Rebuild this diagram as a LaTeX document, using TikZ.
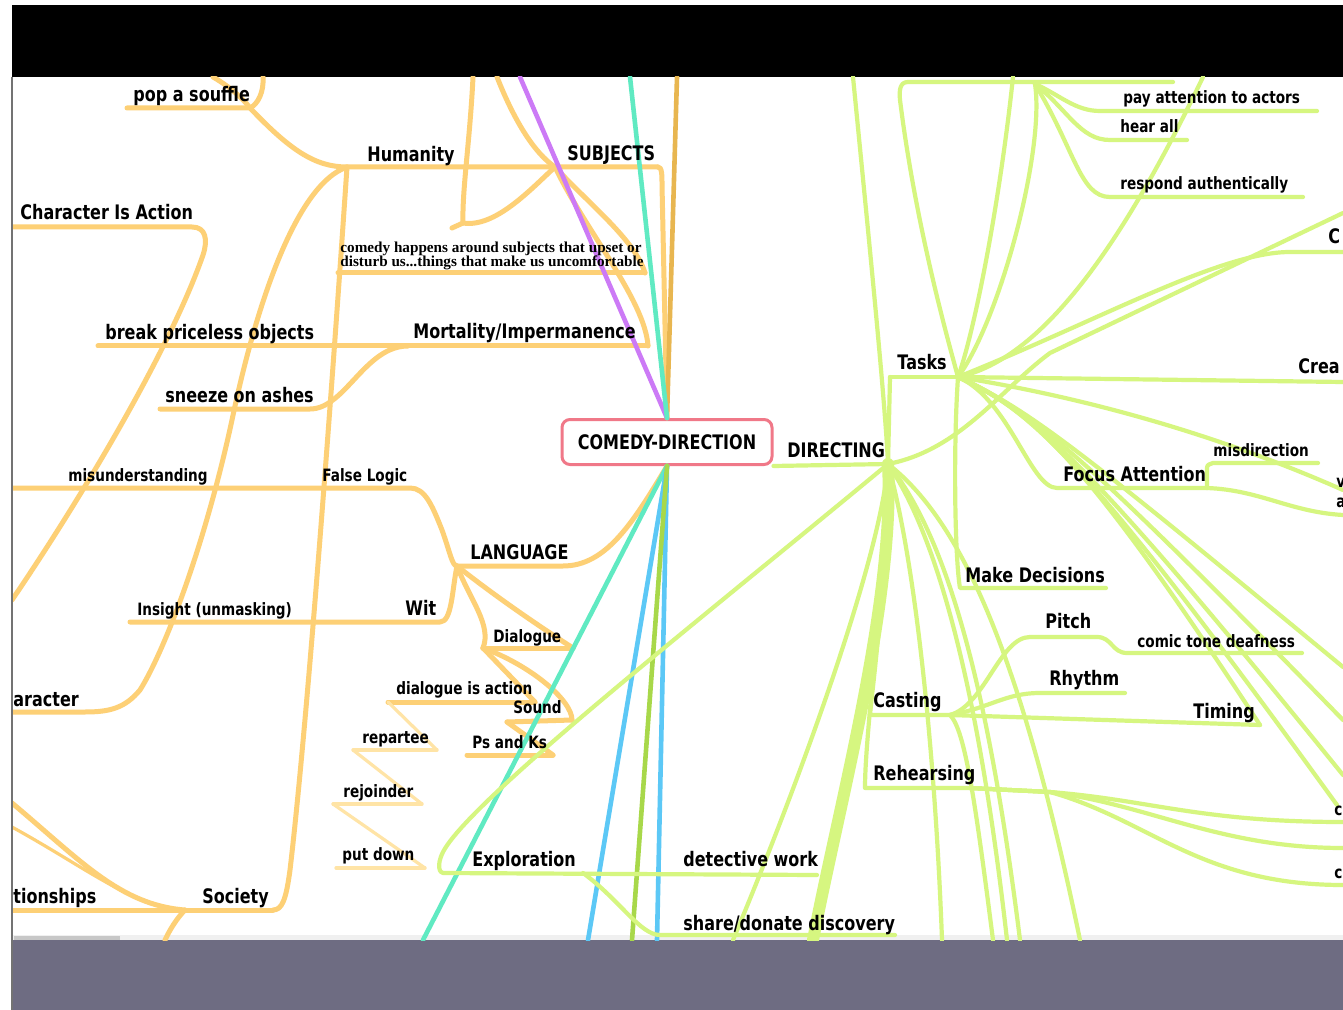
\documentclass[tikz,border=0pt]{standalone}
\usepackage{fontspec}
\setmainfont{DejaVu Sans}[FakeStretch=0.8]
\newfontfamily\noteserif{Liberation Serif}

\definecolor{orangeln}{RGB}{253,208,118}
\definecolor{orangepale}{RGB}{255,228,166}
\definecolor{orangedark}{RGB}{232,182,80}
\definecolor{limeln}{RGB}{214,246,128}
\definecolor{greendark}{RGB}{168,216,74}
\definecolor{purpleln}{RGB}{204,122,246}
\definecolor{tealln}{RGB}{96,234,194}
\definecolor{blueln}{RGB}{92,200,246}
\definecolor{pinkbox}{RGB}{240,120,136}
\definecolor{slideband}{RGB}{110,108,130}

\newcommand\bigfnt{\fontsize{10}{12}\selectfont\bfseries}
\newcommand\smlfnt{\fontsize{8.5}{10}\selectfont\bfseries}

\tikzset{
  lbl/.style={font=\bigfnt, inner sep=0pt, anchor=base west},
  sml/.style={font=\smlfnt, inner sep=0pt, anchor=base west},
  oline/.style={draw=orangeln, line width=2.5pt, line cap=round, line join=round},
  opale/.style={draw=orangepale, line width=1.6pt, line cap=round, line join=round},
  gline/.style={draw=limeln, line width=2.1pt, line cap=round, line join=round},
  spoke/.style={line width=2.3pt, line cap=round},
  centrebox/.style={draw=pinkbox, line width=1.5pt, rounded corners=4pt, fill=white,
    minimum width=105pt, minimum height=22.5pt, inner sep=0pt, font=\bigfnt}
}

\begin{document}
\begin{tikzpicture}[x=0.5pt,y=-0.5pt]
    \useasboundingbox (0,0) rectangle (1343,1010);
    \fill[white] (0,0) rectangle (1343,1010);
    \fill[black] (12,5) rectangle (1343,77);
    \fill[slideband] (12,940) rectangle (1343,1010);

\begin{scope}
    \clip (12,77) rectangle (1343,940);
    \fill[black!6] (12,935) rectangle (1343,940);
    \fill[black!22] (14,936) rectangle (120,940);

    % free ends at the border of the window
    \coordinate (ta) at (213,77);   \coordinate (tb) at (263,77);
    \coordinate (tc) at (473,77);   \coordinate (td) at (497,77);
    \coordinate (tp) at (520,77);   \coordinate (tt) at (630,77);
    \coordinate (tf) at (677,77);
    \coordinate (ea) at (12,600);   \coordinate (eb) at (12,803);
    \coordinate (ec) at (12,827);   \coordinate (ed) at (165,940);
    \coordinate (bt) at (423,940);  \coordinate (bb1) at (588,940);
    \coordinate (bg1) at (632,940); \coordinate (bb2) at (657,940);
    \coordinate (stub) at (452,228);

    % underline ends, left side
    \coordinate (sf-w) at (127,108);   \coordinate (sf-e) at (250,108);
    \coordinate (hum-w) at (347,167);  \coordinate (subj-w) at (555,167);
    \coordinate (subj-e) at (658,167); \coordinate (hook) at (463,223);
    \coordinate (note-w) at (338,273); \coordinate (note-e) at (645,273);
    \coordinate (brk-w) at (98,346);   \coordinate (mort-w) at (408,346);
    \coordinate (mort-e) at (648,346);
    \coordinate (snz-w) at (160,409);  \coordinate (snz-e) at (310,409);
    \coordinate (cia-w) at (12,227);   \coordinate (cia-e) at (192,227);
    \coordinate (mis-w) at (12,488);   \coordinate (logic-e) at (410,488);
    \coordinate (lang-w) at (457,566); \coordinate (lang-e) at (563,566);
    \coordinate (ins-w) at (130,622);  \coordinate (wit-e) at (440,622);
    \coordinate (dlg-w) at (483,648);  \coordinate (dlg-e) at (573,648);
    \coordinate (dia-w) at (388,702);  \coordinate (dia-e) at (535,702);
    \coordinate (snd-w) at (507,722);  \coordinate (snd-e) at (572,720);
    \coordinate (pk-w) at (467,755);   \coordinate (pk-e) at (553,755);
    \coordinate (rep-w) at (353,750);  \coordinate (rep-e) at (437,750);
    \coordinate (rej-w) at (333,804);  \coordinate (rej-e) at (422,804);
    \coordinate (put-w) at (336,868);  \coordinate (put-e) at (425,868);
    \coordinate (chr-w) at (12,712);   \coordinate (chr-e) at (85,712);
    \coordinate (rel-w) at (12,910);   \coordinate (soc-w) at (185,910);
    \coordinate (soc-e) at (273,910);

    % underline ends, right side
    \coordinate (dir-hub) at (888,464);
    \coordinate (task-w) at (890,377);  \coordinate (task-e) at (958,377);
    \coordinate (pay-top) at (1173,82); \coordinate (pay-hub) at (1035,84);
    \coordinate (pay-w) at (1100,111);  \coordinate (pay-e) at (1317,111);
    \coordinate (hear-w) at (1110,140); \coordinate (hear-e) at (1187,140);
    \coordinate (resp-w) at (1110,197); \coordinate (resp-e) at (1303,197);
    \coordinate (c-w) at (1290,252);    \coordinate (c-e) at (1343,252);
    \coordinate (crea-e) at (1343,382);
    \coordinate (foc-w) at (1057,488);  \coordinate (foc-e) at (1207,488);
    \coordinate (misd-w) at (1213,463); \coordinate (misd-e) at (1318,463);
    \coordinate (dec-w) at (960,588);   \coordinate (dec-e) at (1106,588);
    \coordinate (pit-w) at (1030,637);  \coordinate (pit-e) at (1097,637);
    \coordinate (ctd-w) at (1127,653);  \coordinate (ctd-e) at (1302,653);
    \coordinate (rhy-w) at (1040,693);  \coordinate (rhy-e) at (1125,693);
    \coordinate (cas-w) at (870,715);   \coordinate (cas-e) at (950,715);
    \coordinate (tim-e) at (1260,725);
    \coordinate (reh-w) at (865,788);   \coordinate (reh-e) at (970,788);
    \coordinate (reh-k) at (1050,792);
    \coordinate (exp-w) at (443,873);   \coordinate (exp-e) at (583,873);
    \coordinate (det-e) at (817,875);
    \coordinate (shr-w) at (660,935);   \coordinate (shr-e) at (895,935);
    \coordinate (e1) at (853,77);  \coordinate (e2) at (1013,77);
    \coordinate (e3) at (1203,77); \coordinate (kink) at (1050,353);
    \coordinate (r1) at (1343,213); \coordinate (r2) at (1343,490);
    \coordinate (r3) at (1343,515); \coordinate (r4) at (1343,667);
    \coordinate (r5) at (1343,720); \coordinate (r6) at (1343,775);
    \coordinate (r7) at (1337,805); \coordinate (r8) at (1343,822);
    \coordinate (r9) at (1343,848); \coordinate (r10) at (1343,885);
    \coordinate (b-a) at (942,940); \coordinate (b-b) at (993,940);
    \coordinate (b-c) at (1007,940); \coordinate (b-d) at (1020,940);
    \coordinate (b-e) at (1080,940); \coordinate (b-f) at (733,940);
    \coordinate (b-g) at (813,940);

    % centre
    \node[centrebox] (cdir) at (667,442) {COMEDY-DIRECTION};

    % orange branches
    \draw[oline] (ta) .. controls (232,88) and (244,100) .. (sf-e);
    \draw[oline] (tb) .. controls (264,92) and (258,104) .. (sf-e);
    \draw[oline] (sf-w) -- (sf-e) .. controls (290,150) and (315,167) .. (hum-w) -- (subj-w) -- (subj-e);
    \draw[oline] (subj-e) .. controls (662,167) and (662,175) .. (662,185) -- (cdir.north);
    \draw[oline] (td) .. controls (510,110) and (530,150) .. (subj-w);
    \draw[oline] (tc) .. controls (470,140) and (462,190) .. (hook) .. controls (495,228) and (530,190) .. (subj-w);
    \draw[oline] (stub) -- (hook);
    \draw[oline] (subj-w) .. controls (590,205) and (635,240) .. (note-e);
    \draw[oline] (subj-w) .. controls (585,230) and (645,300) .. (mort-e);
    \draw[oline] (note-w) -- (note-e);
    \draw[oline] (brk-w) -- (mort-e);
    \draw[oline] (snz-w) -- (snz-e) .. controls (345,409) and (365,346) .. (mort-w);
    \draw[oline] (hum-w) .. controls (338,300) and (310,700) .. (290,870) .. controls (286,900) and (282,910) .. (soc-e);
    \draw[oline] (rel-w) -- (soc-e);
    \draw[oline] (cia-w) -- (cia-e) .. controls (206,227) and (208,240) .. (203,255) .. controls (170,350) and (80,500) .. (ea);
    \draw[oline] (hum-w) .. controls (295,185) and (255,310) .. (232,420) .. controls (205,545) and (165,650) .. (140,690) .. controls (125,708) and (110,712) .. (chr-e) -- (chr-w);
    \draw[oline] (mis-w) -- (logic-e) .. controls (425,488) and (432,505) .. (442,530) .. controls (450,552) and (452,566) .. (lang-w) -- (lang-e) .. controls (605,566) and (632,525) .. (cdir.south);
    \draw[oline] (ins-w) -- (wit-e) .. controls (452,622) and (452,590) .. (lang-w);
    \draw[oline] (lang-w) .. controls (500,600) and (545,630) .. (dlg-e);
    \draw[oline] (lang-w) .. controls (470,600) and (492,625) .. (dlg-w);
    \draw[oline] (dlg-w) -- (dlg-e);
    \draw[oline] (dlg-w) -- (dia-e);
    \draw[oline] (dlg-w) .. controls (530,665) and (572,700) .. (snd-e);
    \draw[oline] (dia-w) -- (dia-e);
    \draw[oline] (snd-w) -- (snd-e);
    \draw[oline] (snd-w) -- (pk-e);
    \draw[oline] (pk-w) -- (pk-e);
    \draw[opale] (dia-w) -- (rep-e);
    \draw[opale] (rep-w) -- (rep-e);
    \draw[opale] (rep-w) -- (rej-e);
    \draw[opale] (rej-w) -- (rej-e);
    \draw[opale] (rej-w) -- (put-e);
    \draw[opale] (put-w) -- (put-e);
    \draw[oline] (eb) .. controls (80,860) and (120,905) .. (soc-w);
    \draw[oline, line width=1.6pt] (ec) .. controls (90,870) and (130,905) .. (soc-w);
    \draw[oline] (soc-w) .. controls (180,915) and (172,925) .. (ed);
    \draw[orangedark, spoke] (tf) -- (cdir.north);

    % coloured spokes through the centre
    \draw[purpleln, spoke] (tp) -- (cdir.north);
    \draw[tealln, spoke] (tt) -- (cdir.north);
    \draw[tealln, spoke] (cdir.south) -- (bt);
    \draw[blueln, spoke] (cdir.south) -- (bb1);
    \draw[blueln, spoke] (cdir.south) -- (bb2);
    \draw[greendark, spoke] (cdir.south) -- (bg1);

    % green branches
    \draw[gline] (cdir.south east) -- (dir-hub);
    \draw[gline] (task-w) -- (task-e);
    \draw[gline] (dir-hub) -- (task-w);
    \draw[gline] (e1) .. controls (870,250) and (885,400) .. (dir-hub);
    \draw[gline] (pay-top) -- (908,82) .. controls (900,82) and (899,90) .. (900,100) .. controls (915,220) and (945,330) .. (task-e);
    \draw[gline] (e2) .. controls (1000,200) and (975,330) .. (task-e);
    \draw[gline] (pay-hub) .. controls (1045,150) and (1000,320) .. (task-e);
    \draw[gline] (pay-hub) .. controls (1060,95) and (1075,111) .. (pay-w) -- (pay-e);
    \draw[gline] (pay-hub) .. controls (1068,110) and (1080,140) .. (hear-w) -- (hear-e);
    \draw[gline] (pay-hub) .. controls (1075,150) and (1080,197) .. (resp-w) -- (resp-e);
    \draw[gline] (e3) .. controls (1120,250) and (1040,360) .. (task-e);
    \draw[gline] (dir-hub) .. controls (960,450) and (1000,390) .. (kink) -- (r1);
    \draw[gline] (task-e) .. controls (1100,320) and (1220,252) .. (c-w) -- (c-e);
    \draw[gline] (task-e) -- (crea-e);
    \draw[gline] (task-e) .. controls (1010,400) and (1030,488) .. (foc-w) -- (foc-e);
    \draw[gline] (foc-e) -- (1207,470) .. controls (1207,465) .. (misd-w) -- (misd-e);
    \draw[gline] (foc-e) .. controls (1260,490) and (1290,512) .. (r3);
    \draw[gline] (task-e) .. controls (1100,400) and (1230,440) .. (r2);
    \foreach \tip in {tim-e,r4,r5,r6,r7}
        \draw[gline] (task-e) .. controls (1030,410) and (1080,450) .. (\tip);
    \draw[gline] (task-e) .. controls (953,450) and (955,560) .. (dec-w) -- (dec-e);
    \draw[gline] (dir-hub) .. controls (700,620) and (470,800) .. (443,852) .. controls (436,866) and (440,873) .. (exp-w) -- (det-e);
    \draw[gline] (exp-e) .. controls (620,900) and (640,935) .. (shr-w) -- (shr-e);
    \draw[gline] (dir-hub) .. controls (880,560) and (800,780) .. (b-f);
    \draw[gline, line width=6pt] (dir-hub) .. controls (895,600) and (840,800) .. (b-g);
    \draw[gline] (dir-hub) .. controls (885,600) and (872,690) .. (cas-w) -- (cas-e);
    \draw[gline] (dir-hub) .. controls (878,650) and (865,740) .. (reh-w) -- (reh-e);
    \draw[gline] (cas-e) .. controls (985,705) and (1000,637) .. (pit-w) -- (pit-e) .. controls (1112,637) and (1112,653) .. (ctd-w) -- (ctd-e);
    \draw[gline] (cas-e) .. controls (990,708) and (1005,693) .. (rhy-w) -- (rhy-e);
    \draw[gline] (cas-e) -- (tim-e);
    \draw[gline] (cas-e) .. controls (965,730) and (975,800) .. (b-b);
    \draw[gline] (dir-hub) .. controls (915,560) and (935,750) .. (b-a);
    \draw[gline] (dir-hub) .. controls (940,540) and (980,700) .. (b-c);
    \draw[gline] (dir-hub) .. controls (950,540) and (990,700) .. (b-d);
    \draw[gline] (dir-hub) .. controls (960,520) and (1020,650) .. (b-e);
    \draw[gline] (reh-e) -- (reh-k) .. controls (1150,800) and (1200,822) .. (r8);
    \draw[gline] (reh-e) -- (reh-k) .. controls (1150,805) and (1220,848) .. (r9);
    \draw[gline] (reh-e) -- (reh-k) .. controls (1150,820) and (1200,885) .. (r10);

    % labels, left
    \node[lbl] (souffle) at (133,102) {pop a souffle};
    \node[lbl] (humanity) at (367,162) {Humanity};
    \node[lbl] (subjects) at (567,161) {SUBJECTS};
    \node[lbl] (cia) at (20,220) {Character Is Action};
    \node[inner sep=0pt, anchor=south west, align=left,
          font=\noteserif\bfseries\fontsize{7.6}{7}\selectfont] (note) at (340,270)
          {comedy happens around subjects that upset or\\disturb us...things that make us uncomfortable};
    \node[lbl] (breakobj) at (105,340) {break priceless objects};
    \node[lbl] (mortality) at (413,339) {Mortality/Impermanence};
    \node[lbl] (sneeze) at (165,402) {sneeze on ashes};
    \node[sml] (misund) at (68,481) {misunderstanding};
    \node[sml] (falselogic) at (322,481) {False Logic};
    \node[lbl] (language) at (470,559) {LANGUAGE};
    \node[sml] (insight) at (137,615) {Insight (unmasking)};
    \node[lbl] (wit) at (405,615) {Wit};
    \node[sml] (dialogue) at (493,642) {Dialogue};
    \node[sml] (diaaction) at (396,694) {dialogue is action};
    \node[sml] (sound) at (513,713) {Sound};
    \node[lbl] (character) at (13,706) {aracter};
    \node[sml] (pandk) at (472,748) {Ps and Ks};
    \node[sml] (repartee) at (362,743) {repartee};
    \node[sml] (rejoinder) at (343,797) {rejoinder};
    \node[sml] (putdown) at (342,860) {put down};
    \node[lbl] (relations) at (13,903) {tionships};
    \node[lbl] (society) at (202,903) {Society};
    \node[lbl] (exploration) at (472,866) {Exploration};
    \node[lbl] (detective) at (683,866) {detective work};
    \node[lbl] (share) at (683,930) {share/donate discovery};

    % labels, right
    \node[lbl] (directing) at (787,457) {DIRECTING};
    \node[lbl] (tasks) at (897,370) {Tasks};
    \node[sml] (payatt) at (1123,104) {pay attention to actors};
    \node[sml] (hearall) at (1120,133) {hear all};
    \node[sml] (respond) at (1120,190) {respond authentically};
    \node[lbl] (cut-c) at (1328,244) {C};
    \node[lbl] (crea) at (1298,374) {Crea};
    \node[sml] (misdir) at (1213,456) {misdirection};
    \node[lbl] (focus) at (1063,481) {Focus Attention};
    \node[sml] (cut-v) at (1336,487) {v};
    \node[sml] (cut-a) at (1336,507) {a};
    \node[lbl] (decisions) at (965,582) {Make Decisions};
    \node[lbl] (pitch) at (1045,628) {Pitch};
    \node[sml] (comictone) at (1137,647) {comic tone deafness};
    \node[lbl] (rhythm) at (1049,685) {Rhythm};
    \node[lbl] (casting) at (873,707) {Casting};
    \node[lbl] (timing) at (1193,718) {Timing};
    \node[lbl] (rehearse) at (873,780) {Rehearsing};
    \node[sml] (cut-c2) at (1334,815) {c};
    \node[sml] (cut-c3) at (1334,878) {c};
\end{scope}
    \draw[black!55, line width=1pt] (12,77) -- (12,1010);
\end{tikzpicture}
\end{document}
